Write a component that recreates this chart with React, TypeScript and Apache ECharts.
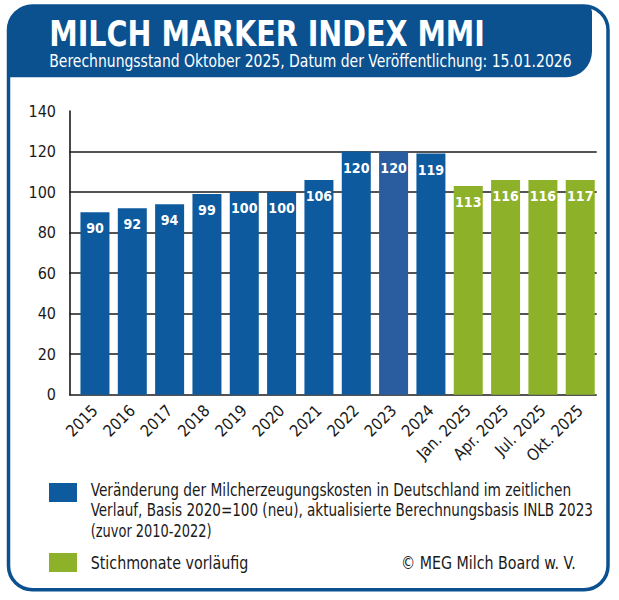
import React, { useEffect, useRef } from "react";
import * as echarts from "echarts";

const categories = [
  "2015", "2016", "2017", "2018", "2019", "2020", "2021", "2022", "2023", "2024",
  "Jan. 2025", "Apr. 2025", "Jul. 2025", "Okt. 2025",
];
// bar heights as drawn in the picture
const barHeights = [90, 92, 94, 99, 100, 100, 106, 120, 120, 119, 103, 106, 106, 106];
// value labels printed on the bars
const barLabels = [90, 92, 94, 99, 100, 100, 106, 120, 120, 119, 113, 116, 116, 117];
const provisionalFrom = 10; // index of first "Stichmonat"
const yTicks = [0, 20, 40, 60, 80, 100, 120, 140];

const titleText = "MILCH MARKER INDEX MMI";
const subtitleText = "Berechnungsstand Oktober 2025, Datum der Veröffentlichung: 15.01.2026";
const legendLines = [
  "Veränderung der Milcherzeugungskosten in Deutschland im zeitlichen",
  "Verlauf, Basis 2020=100 (neu), aktualisierte Berechnungsbasis INLB 2023",
  "(zuvor 2010-2022)",
];
const legendGreen = "Stichmonate vorläufig";
const copyright = "© MEG Milch Board w. V.";

const FONT = "'DejaVu Sans Condensed', 'DejaVu Sans', sans-serif";
const BLUE = "#0d5a9e";
const BLUE_2023 = "#2a5d9f";
const GREEN = "#8db22a";
const FRAME = "#0b5190";
const INK = "#1a1a1a";

function measure(text: string, fontSize: number, fontWeight: string = "normal") {
  const t = new echarts.graphic.Text({ style: { text, fontSize, fontFamily: FONT, fontWeight } as any });
  return t.getBoundingRect().width || 1;
}

function sizeFor(sample: string, targetWidth: number, fontWeight: string = "normal") {
  return Math.round((20 * targetWidth) / measure(sample, 20, fontWeight) * 10) / 10;
}

function fitText(
  text: string,
  x: number,
  y: number,
  targetWidth: number,
  fontSize: number,
  fill: string,
  fontWeight: string = "normal",
  align: string = "left"
) {
  const w = measure(text, fontSize, fontWeight);
  return {
    type: "text",
    x,
    y,
    scaleX: targetWidth / w,
    style: { text, fill, fontSize, fontFamily: FONT, fontWeight, verticalAlign: "middle", align },
  };
}

export default function App() {
  const ref = useRef<HTMLDivElement>(null);
  useEffect(() => {
    document.body.style.margin = "0";
    if (!ref.current) return;
    const chart = echarts.init(ref.current, undefined, { renderer: "svg" });
    const yMax = yTicks[yTicks.length - 1];
    const yInterval = yTicks[1] - yTicks[0];
    const gridColors = yTicks.map((_, i) => (i === yTicks.length - 1 ? "rgba(0,0,0,0)" : INK));
    const legendTargets = [481, 502.5, 121];
    const yFont = sizeFor("100", 27.5);
    const xFont = sizeFor("2015", 37);
    const barFont = sizeFor("100", 26.5, "bold");
    chart.setOption({
      animation: false,
      backgroundColor: "#ffffff",
      grid: [
        { left: 69.3, right: 22.3, top: 111, bottom: 205.3 },
        { left: 76.3, right: 20.1, top: 111, bottom: 205.3 },
      ],
      xAxis: [
        { gridIndex: 0, type: "category", data: categories, show: false },
        {
          gridIndex: 1,
          type: "category",
          data: categories,
          axisLine: { show: false },
          axisTick: { show: false },
          axisLabel: {
            rotate: 45,
            interval: 0,
            margin: 13,
            fontSize: xFont,
            fontFamily: FONT,
            color: INK,
          },
        },
      ],
      yAxis: [
        {
          gridIndex: 0,
          type: "value",
          min: 0,
          max: yMax,
          interval: yInterval,
          axisLine: { show: true, lineStyle: { color: INK, width: 1.6 } },
          axisTick: { show: false },
          axisLabel: { fontSize: yFont, fontFamily: FONT, color: INK, margin: 13.3 },
          splitLine: { show: true, lineStyle: { color: gridColors, width: 1.6 } },
        },
        {
          gridIndex: 1,
          type: "value",
          min: 0,
          max: yMax,
          interval: yInterval,
          show: false,
          splitLine: { show: false },
        },
      ],
      series: [
        {
          type: "bar",
          xAxisIndex: 1,
          yAxisIndex: 1,
          barWidth: 29,
          data: barHeights.map((v, i) => ({
            value: v,
            itemStyle: {
              color: i >= provisionalFrom ? GREEN : categories[i] === "2023" ? BLUE_2023 : BLUE,
            },
          })),
          label: {
            show: true,
            position: "insideTop",
            distance: 9,
            color: "#ffffff",
            fontSize: barFont,
            fontWeight: "bold",
            fontFamily: FONT,
            formatter: (p: any) => String(barLabels[p.dataIndex]),
          },
        },
      ],
      graphic: [
        {
          type: "rect",
          z: -10,
          shape: { x: 8.5, y: 6, width: 599.5, height: 583.7, r: 24 },
          style: { fill: "#ffffff", stroke: FRAME, lineWidth: 3.5 },
        },
        {
          type: "rect",
          z: -9,
          shape: { x: 8.5, y: 6, width: 583.5, height: 71.3, r: [24, 6, 26, 0] },
          style: { fill: FRAME },
        },
        fitText(titleText, 49.3, 33.5, 436, 36, "#ffffff", "bold"),
        fitText(subtitleText, 49.3, 61, 522.4, 17, "#ffffff"),
        {
          type: "rect",
          shape: { x: 49, y: 483, width: 28, height: 19 },
          style: { fill: BLUE },
        },
        {
          type: "rect",
          shape: { x: 49, y: 553, width: 28, height: 19 },
          style: { fill: GREEN },
        },
        ...legendLines.map((t, i) => fitText(t, 90.7, 490 + i * 20.4, legendTargets[i], 17, INK)),
        fitText(legendGreen, 90.7, 563, 157.6, 17, INK),
        fitText(copyright, 575.7, 563, 175, 17, INK, "normal", "right"),
      ],
    });
    return () => chart.dispose();
  }, []);
  return <div ref={ref} style={{ width: 619, height: 600 }} />;
}
